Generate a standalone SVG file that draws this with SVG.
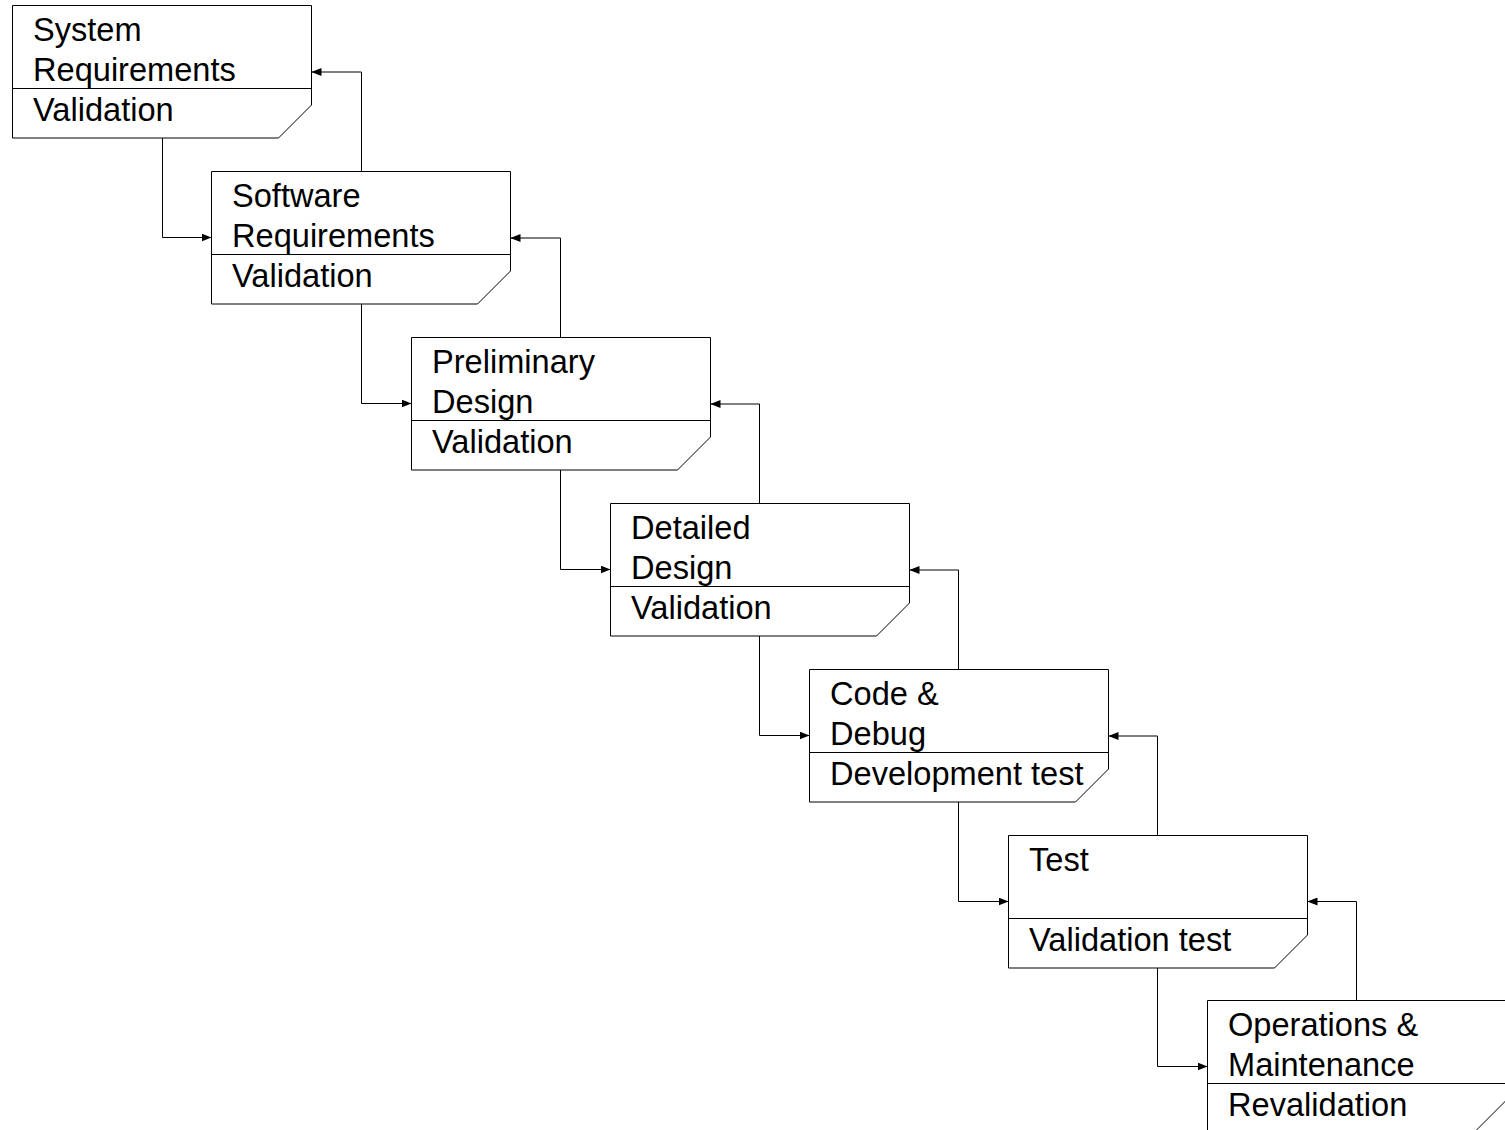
<svg xmlns="http://www.w3.org/2000/svg" width="1505" height="1130" viewBox="0 0 1505 1130">
<style>
.box{fill:#fff;stroke:#000;stroke-width:1}
.div{stroke:#000;stroke-width:1}
.t{font-family:"Liberation Sans",Arial,sans-serif;font-size:32.6px;fill:#000}
.c{fill:none;stroke:#000;stroke-width:1}
</style>
<defs>
<marker id="ah" markerUnits="userSpaceOnUse" markerWidth="10" markerHeight="8" refX="10" refY="4" orient="auto">
<path d="M0,0 L10,4 L0,8 Z" fill="#000"/>
</marker>
<path id="shape" d="M0,0 H299 V99.5 L266,132.5 H0 Z"/>
</defs>
<rect width="1505" height="1130" fill="#fff"/>
<g id="connectors">
<path class="c" d="M162.5,138 V237.5 H211.5" marker-end="url(#ah)"/>
<path class="c" d="M361.5,171.5 V72 H311.5" marker-end="url(#ah)"/>
<path class="c" d="M361.5,304 V403.5 H411.5" marker-end="url(#ah)"/>
<path class="c" d="M560.5,337.5 V238 H510.5" marker-end="url(#ah)"/>
<path class="c" d="M560.5,470 V569.5 H610.5" marker-end="url(#ah)"/>
<path class="c" d="M759.5,503.5 V404 H710.5" marker-end="url(#ah)"/>
<path class="c" d="M759.5,636 V735.5 H809.5" marker-end="url(#ah)"/>
<path class="c" d="M958.5,669.5 V570 H909.5" marker-end="url(#ah)"/>
<path class="c" d="M958.5,802 V901.5 H1008.5" marker-end="url(#ah)"/>
<path class="c" d="M1157.5,835.5 V736 H1108.5" marker-end="url(#ah)"/>
<path class="c" d="M1157.5,968 V1066.5 H1207.5" marker-end="url(#ah)"/>
<path class="c" d="M1356.5,1000.5 V901.5 H1307.5" marker-end="url(#ah)"/>
</g>
<g id="sysreq" transform="translate(12.5,5.5)">
<use href="#shape" class="box"/>
<line class="div" x1="0" y1="83" x2="299" y2="83"/>
<text class="t" x="20.5" y="35.5">System</text>
<text class="t" x="20.5" y="75.5">Requirements</text>
<text class="t" x="20.5" y="115.5">Validation</text>
</g>
<g id="swreq" transform="translate(211.5,171.5)">
<use href="#shape" class="box"/>
<line class="div" x1="0" y1="83" x2="299" y2="83"/>
<text class="t" x="20.5" y="35.5">Software</text>
<text class="t" x="20.5" y="75.5">Requirements</text>
<text class="t" x="20.5" y="115.5">Validation</text>
</g>
<g id="prelim" transform="translate(411.5,337.5)">
<use href="#shape" class="box"/>
<line class="div" x1="0" y1="83" x2="299" y2="83"/>
<text class="t" x="20.5" y="35.5">Preliminary</text>
<text class="t" x="20.5" y="75.5">Design</text>
<text class="t" x="20.5" y="115.5">Validation</text>
</g>
<g id="detailed" transform="translate(610.5,503.5)">
<use href="#shape" class="box"/>
<line class="div" x1="0" y1="83" x2="299" y2="83"/>
<text class="t" x="20.5" y="35.5">Detailed</text>
<text class="t" x="20.5" y="75.5">Design</text>
<text class="t" x="20.5" y="115.5">Validation</text>
</g>
<g id="code" transform="translate(809.5,669.5)">
<use href="#shape" class="box"/>
<line class="div" x1="0" y1="83" x2="299" y2="83"/>
<text class="t" x="20.5" y="35.5">Code &amp;</text>
<text class="t" x="20.5" y="75.5">Debug</text>
<text class="t" x="20.5" y="115.5">Development test</text>
</g>
<g id="test" transform="translate(1008.5,835.5)">
<use href="#shape" class="box"/>
<line class="div" x1="0" y1="83" x2="299" y2="83"/>
<text class="t" x="20.5" y="35.5">Test</text>
<text class="t" x="20.5" y="115.5">Validation test</text>
</g>
<g id="ops" transform="translate(1207.5,1000.5)">
<use href="#shape" class="box"/>
<line class="div" x1="0" y1="83" x2="299" y2="83"/>
<text class="t" x="20.5" y="35.5">Operations &amp;</text>
<text class="t" x="20.5" y="75.5">Maintenance</text>
<text class="t" x="20.5" y="115.5">Revalidation</text>
</g>
</svg>
